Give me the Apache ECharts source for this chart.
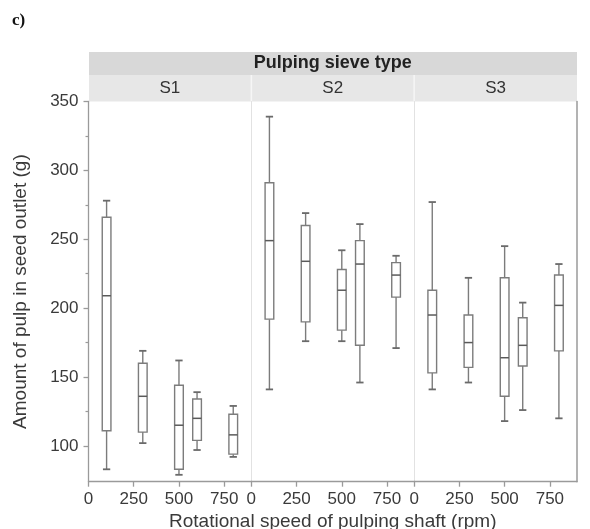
<!DOCTYPE html>
<html>
<head>
<meta charset="utf-8">
<script src="https://cdn.jsdelivr.net/npm/echarts@6/dist/echarts.min.js"></script>
<style>
  html, body { margin: 0; padding: 0; background: #fff; }
  #chart { width: 590px; height: 529px; }
</style>
</head>
<body>
<div id="chart"></div>
<script>
// ---- data ----
const sieves = ['S1', 'S2', 'S3'];
const speeds = [100, 300, 500, 600, 800];            // rpm
// each entry: [min, Q1, median, Q3, max]  (g)
const S1 = [[83, 111, 209, 266, 278], [102, 110, 136, 160, 169], [79, 83, 115, 144, 162], [97, 104, 120, 134, 139], [92, 94, 108, 123, 129]];
const S2 = [[141, 192, 249, 291, 339], [176, 190, 234, 260, 269], [176, 184, 213, 228, 242], [146, 173, 232, 249, 261], [171, 208, 224, 233, 238]];
const S3 = [[141, 153, 195, 213, 277], [146, 157, 175, 195, 222], [118, 136, 164, 222, 245], [126, 158, 173, 193, 204], [120, 169, 202, 224, 232]];
const xTicks = [0, 250, 500, 750];
const yTicks = [100, 150, 200, 250, 300, 350];
const yMinorTicks = [125, 175, 225, 275, 325];
const groups = [S1, S2, S3];

// ---- layout ----
const PLOT_L = 88.5, PLOT_R = 577, PLOT_T = 101.5, PLOT_B = 481.7;
const PW = (PLOT_R - PLOT_L) / 3;
const BOX_W = 48;
const AX = '#9a9a9a', TXT = '#3a3a3a';
const FONT = 'Liberation Sans, Arial, sans-serif';

const grids = [], xAxes = [], yAxes = [], series = [];
for (let i = 0; i < 3; i++) {
  grids.push({ left: PLOT_L + i * PW, top: PLOT_T, width: PW, height: PLOT_B - PLOT_T, containLabel: false, outerBoundsMode: 'none' });
  xAxes.push({
    type: 'value', gridIndex: i, min: 0, max: 900,
    axisLine: { show: true, onZero: false, lineStyle: { color: AX, width: 1.3 } },
    axisTick: { show: true, customValues: xTicks, length: 5, lineStyle: { color: AX, width: 1.3 } },
    axisLabel: { customValues: xTicks, fontSize: 17, color: TXT, margin: 9, fontFamily: FONT },
    splitLine: { show: false },
    name: i === 1 ? 'Rotational speed of pulping shaft (rpm)' : '',
    nameLocation: 'middle', nameGap: 30,
    nameTextStyle: { fontSize: 19, color: TXT, fontFamily: FONT }
  });
  yAxes.push({
    type: 'value', gridIndex: i, min: 74, max: 350,
    axisLine: { show: true, onZero: false, lineStyle: { color: i === 0 ? AX : '#e2e2e2', width: i === 0 ? 1.3 : 1 } },
    axisTick: { show: i === 0, customValues: yTicks, length: 5, lineStyle: { color: AX, width: 1.3 } },
    axisLabel: { show: i === 0, customValues: yTicks, fontSize: 17, color: TXT, margin: 10, fontFamily: FONT },
    splitLine: { show: false },
    name: i === 0 ? 'Amount of pulp in seed outlet (g)' : '',
    nameLocation: 'middle', nameGap: 58,
    nameTextStyle: { fontSize: 19, color: TXT, fontFamily: FONT }
  });
}
// minor ticks on the left axis
yAxes.push({
  type: 'value', gridIndex: 0, min: 74, max: 350, position: 'left',
  axisLine: { show: false, onZero: false },
  axisTick: { show: true, customValues: yMinorTicks, length: 3, lineStyle: { color: AX, width: 1.2 } },
  axisLabel: { show: false }, splitLine: { show: false }
});
// right border
yAxes.push({
  type: 'value', gridIndex: 2, min: 74, max: 350, position: 'right',
  axisLine: { show: true, onZero: false, lineStyle: { color: AX, width: 1.5 } },
  axisTick: { show: false }, axisLabel: { show: false }, splitLine: { show: false }
});

function renderBox(params, api) {
  const x = api.value(0);
  const lo = api.coord([x, api.value(1)]);
  const q1 = api.coord([x, api.value(2)]);
  const md = api.coord([x, api.value(3)]);
  const q3 = api.coord([x, api.value(4)]);
  const hi = api.coord([x, api.value(5)]);
  const w = api.size([BOX_W, 0])[0];
  const h = w / 2, c = w * 0.42;
  const st = { stroke: '#7c7c7c', lineWidth: 1.4, fill: null };
  return {
    type: 'group',
    children: [
      { type: 'line', shape: { x1: lo[0], y1: lo[1], x2: q1[0], y2: q1[1] }, style: st },
      { type: 'line', shape: { x1: hi[0], y1: hi[1], x2: q3[0], y2: q3[1] }, style: st },
      { type: 'line', shape: { x1: lo[0] - c, y1: lo[1], x2: lo[0] + c, y2: lo[1] }, style: { stroke: '#6a6a6a', lineWidth: 1.8 } },
      { type: 'line', shape: { x1: hi[0] - c, y1: hi[1], x2: hi[0] + c, y2: hi[1] }, style: { stroke: '#6a6a6a', lineWidth: 1.8 } },
      { type: 'rect', shape: { x: q3[0] - h, y: q3[1], width: w, height: q1[1] - q3[1] }, style: { fill: '#fff', stroke: '#7c7c7c', lineWidth: 1.4 } },
      { type: 'line', shape: { x1: md[0] - h, y1: md[1], x2: md[0] + h, y2: md[1] }, style: { stroke: '#5a5a5a', lineWidth: 1.5 } }
    ]
  };
}

groups.forEach((g, i) => {
  series.push({
    type: 'custom', name: sieves[i], xAxisIndex: i, yAxisIndex: i,
    renderItem: renderBox,
    encode: { x: 0, y: [1, 2, 3, 4, 5] },
    data: speeds.map((s, k) => [s].concat(g[k])),
    clip: false, silent: true
  });
});

// header strips
const graphics = [
  { type: 'text', left: 12, top: 12, style: { text: 'c)', font: 'bold 17px "Liberation Serif", "Times New Roman", serif', fill: '#111' } },
  { type: 'rect', shape: { x: PLOT_L + 0.5, y: 52, width: PLOT_R - PLOT_L - 0.5, height: 23 }, style: { fill: '#d8d8d8' }, silent: true },
  { type: 'rect', shape: { x: PLOT_L + 0.5, y: 75, width: PLOT_R - PLOT_L - 0.5, height: PLOT_T - 75 }, style: { fill: '#e7e7e7' }, silent: true },
  { type: 'text', x: (PLOT_L + PLOT_R) / 2, y: 63.5, style: { text: 'Pulping sieve type', font: 'bold 18px ' + FONT, fill: '#222', align: 'center', verticalAlign: 'middle' } }
];
for (let i = 0; i < 3; i++) {
  if (i > 0) graphics.push({ type: 'line', shape: { x1: PLOT_L + i * PW, y1: 75, x2: PLOT_L + i * PW, y2: PLOT_T }, style: { stroke: '#f6f6f6', lineWidth: 1.5 } });
  graphics.push({ type: 'text', x: PLOT_L + (i + 0.5) * PW, y: 88.5, style: { text: sieves[i], font: '17px ' + FONT, fill: '#333', align: 'center', verticalAlign: 'middle' } });
}

const chart = echarts.init(document.getElementById('chart'), null, { renderer: 'canvas' });
chart.setOption({
  backgroundColor: '#fff',
  animation: false,
  grid: grids,
  xAxis: xAxes,
  yAxis: yAxes,
  series: series,
  graphic: graphics
});
</script>
</body>
</html>
